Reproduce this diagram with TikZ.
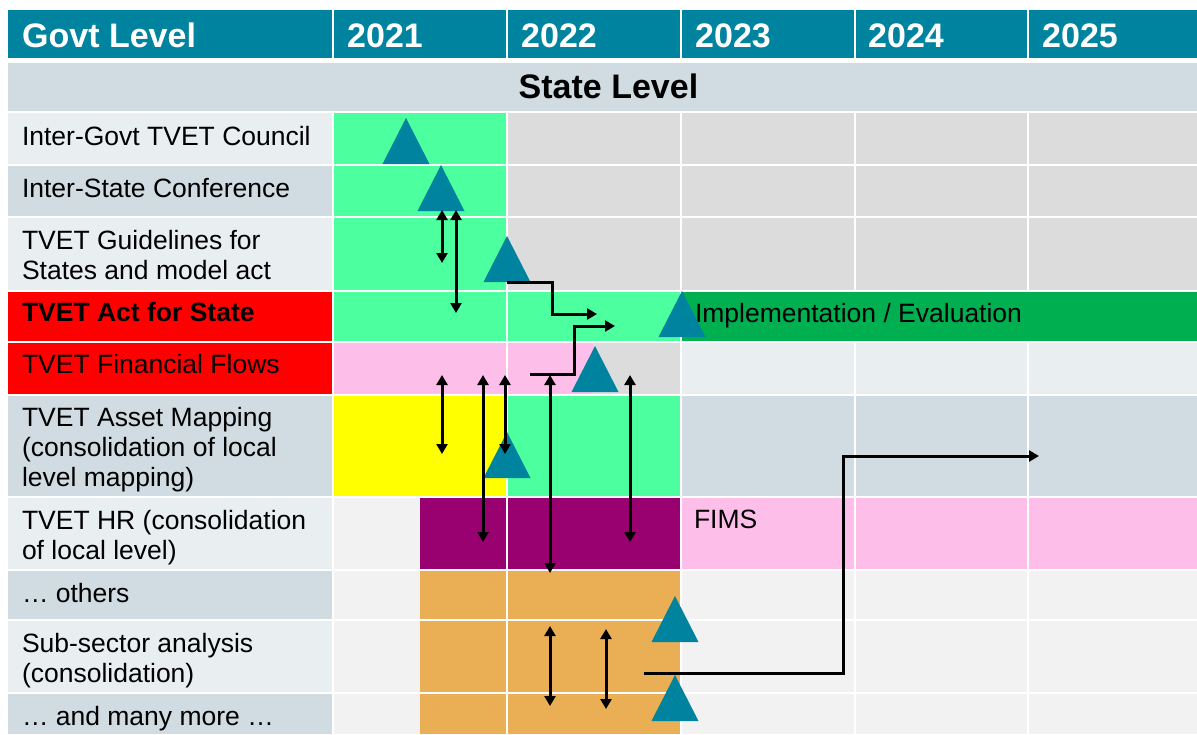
\documentclass[tikz,border=0pt]{standalone}
\usepackage{fontspec}
\setmainfont{Liberation Sans}
\usetikzlibrary{arrows.meta,shapes.geometric}
\definecolor{hdr}{HTML}{00839E}
\definecolor{tri}{HTML}{00839E}
\definecolor{lg}{HTML}{4CFF9F}
\definecolor{dg}{HTML}{00B050}
\definecolor{gy}{HTML}{DCDCDC}
\definecolor{cl}{HTML}{E9EEF1}
\definecolor{cd}{HTML}{D0DCE2}
\definecolor{cf}{HTML}{F2F2F2}
\definecolor{rd}{HTML}{FF0000}
\definecolor{pk}{HTML}{FDBFEA}
\definecolor{yl}{HTML}{FFFF00}
\definecolor{pu}{HTML}{990070}
\definecolor{og}{HTML}{EAAE55}
\tikzset{
  lbl/.style={anchor=north west, inner sep=0pt, outer sep=0pt, align=left, text=black,
    font=\fontsize{26.5}{29.8}\selectfont},
  hdrtxt/.style={anchor=base west, inner sep=0pt, text=white, font=\fontsize{34}{37}\selectfont\bfseries},
  gridline/.style={white, line width=2pt},
  milestone/.style={isosceles triangle, isosceles triangle stretches, shape border rotate=90,
    minimum width=47pt, minimum height=46pt, inner sep=0pt, outer sep=0pt, fill=tri, draw=none, anchor=apex},
  arr/.style={line width=3pt, -{Triangle[width=11pt,length=10pt]}},
  dbl/.style={line width=3pt, {Triangle[width=11pt,length=10pt]}-{Triangle[width=11pt,length=10pt]}}
}
\begin{document}
\begin{tikzpicture}[x=1pt,y=-1pt]
\useasboundingbox (0,0) rectangle (1197,734);
\fill[white] (0,0) rectangle (1197,734);
% header
\fill[hdr] (8,10) rectangle (1197,58);
\foreach \gx in {332.5,506.6,680.5,854.5,1028} \draw[gridline] (\gx,10) -- (\gx,58);
\node[hdrtxt] (hgov) at (22,47.5) {Govt Level};
\node[hdrtxt] (h21) at (347,47.5) {2021};
\node[hdrtxt] (h22) at (521,47.5) {2022};
\node[hdrtxt] (h23) at (695,47.5) {2023};
\node[hdrtxt] (h24) at (868,47.5) {2024};
\node[hdrtxt] (h25) at (1042,47.5) {2025};
% state level row
\fill[cd] (8,63) rectangle (1197,111);
\node[anchor=base, inner sep=0pt, font=\fontsize{34}{37}\selectfont\bfseries] (state) at (608.5,98.5) {State Level};
% rows: label column
\fill[cl] (8,112) rectangle (332.5,165);
\fill[cd] (8,165) rectangle (332.5,217);
\fill[cl] (8,217) rectangle (332.5,290.7);
\fill[rd] (8,290.7) rectangle (332.5,342.3);
\fill[rd] (8,342.3) rectangle (332.5,394.6);
\fill[cd] (8,394.6) rectangle (332.5,497.2);
\fill[cl] (8,497.2) rectangle (332.5,570);
\fill[cd] (8,570) rectangle (332.5,620);
\fill[cl] (8,620) rectangle (332.5,693);
\fill[cd] (8,693) rectangle (332.5,734);
% rows 1-3
\fill[lg] (332.5,112) rectangle (506.6,290.7);
\fill[gy] (506.6,112) rectangle (1197,290.7);
% row 4
\fill[lg] (332.5,290.7) rectangle (680.5,342.3);
% row 5
\fill[pk] (332.5,342.3) rectangle (593,394.6);
\fill[gy] (593,342.3) rectangle (680.5,394.6);
\fill[cl] (680.5,342.3) rectangle (1197,394.6);
% row 6
\fill[yl] (332.5,394.6) rectangle (506.6,497.2);
\fill[lg] (506.6,394.6) rectangle (680.5,497.2);
\fill[cd] (680.5,394.6) rectangle (1197,497.2);
% row 7
\fill[cf] (332.5,497.2) rectangle (420,570);
\fill[pu] (420,497.2) rectangle (680.5,570);
\fill[pk] (680.5,497.2) rectangle (1197,570);
% rows 8-10
\fill[cf] (332.5,570) rectangle (420,734);
\fill[og] (420,570) rectangle (680.5,734);
\fill[cf] (680.5,570) rectangle (1197,734);
% grid lines
\foreach \gy in {112,165,217,290.7,342.3,394.6,497.2,570,620,693} \draw[gridline] (8,\gy) -- (1197,\gy);
\foreach \gx in {332.5,506.6,680.5,854.5,1028} \draw[gridline] (\gx,111) -- (\gx,734);
% implementation bar
\fill[dg] (681.5,291.7) rectangle (1197,341.3);
% labels
\node[lbl] (l1) at (22,124.9) {\strut Inter-Govt TVET Council};
\node[lbl] (l2) at (22,176.9) {\strut Inter-State Conference};
\node[lbl] (l3) at (22,228.9) {\strut TVET Guidelines for\\States and model act};
\node[lbl] (l4) at (22,300.9) {\strut\textbf{TVET Act for State}};
\node[lbl] (l5) at (22,352.9) {\strut TVET Financial Flows};
\node[lbl] (l6) at (22,405.9) {\strut TVET Asset Mapping\\(consolidation of local\\level mapping)};
\node[lbl] (l7) at (22,508.9) {\strut TVET HR (consolidation\\of local level)};
\node[lbl] (l8) at (22,581.9) {\strut … others};
\node[lbl] (l9) at (22,631.9) {\strut Sub-sector analysis\\(consolidation)};
\node[lbl] (l10) at (22,704.9) {\strut … and many more …};
\node[lbl] (impl) at (695,301.9) {\strut Implementation / Evaluation};
\node[lbl] (fims) at (694,507.9) {\strut FIMS};
% milestones
\node[milestone] (t1) at (406,118) {};
\node[milestone] (t2) at (441,165) {};
\node[milestone] (t3) at (507,236) {};
\node[milestone] (t4) at (682,291) {};
\node[milestone] (t5) at (595,346) {};
\node[milestone] (t6) at (507,432) {};
\node[milestone] (t7) at (675,596) {};
\node[milestone] (t8) at (675,675) {};
% connector end points
\coordinate (a1s) at (442,210); \coordinate (a1e) at (442,263);
\coordinate (a2s) at (456,210); \coordinate (a2e) at (456,313);
\coordinate (a3s) at (507,282); \coordinate (a3e) at (597,314);
\coordinate (a4s) at (530,374); \coordinate (a4e) at (615,326);
\coordinate (a5s) at (442,375); \coordinate (a5e) at (442,454);
\coordinate (a6s) at (483,375); \coordinate (a6e) at (483,542);
\coordinate (a7s) at (505,375); \coordinate (a7e) at (505,454);
\coordinate (a8s) at (550,375); \coordinate (a8e) at (550,573);
\coordinate (a9s) at (630,375); \coordinate (a9e) at (630,542);
\coordinate (a10s) at (550,626); \coordinate (a10e) at (550,706);
\coordinate (a11s) at (606,629); \coordinate (a11e) at (606,709);
\coordinate (a12s) at (644,673); \coordinate (a12e) at (1039,456);
% connectors
\draw[dbl] (a1s) -- (a1e);
\draw[dbl] (a2s) -- (a2e);
\draw[arr] (a3s) -- (552,282) |- (a3e);
\draw[arr] (a4s) -- (574,374) |- (a4e);
\draw[dbl] (a5s) -- (a5e);
\draw[dbl] (a6s) -- (a6e);
\draw[dbl] (a7s) -- (a7e);
\draw[dbl] (a8s) -- (a8e);
\draw[dbl] (a9s) -- (a9e);
\draw[dbl] (a10s) -- (a10e);
\draw[dbl] (a11s) -- (a11e);
\draw[arr] (a12s) -- (843,673) |- (a12e);
\end{tikzpicture}
\end{document}
